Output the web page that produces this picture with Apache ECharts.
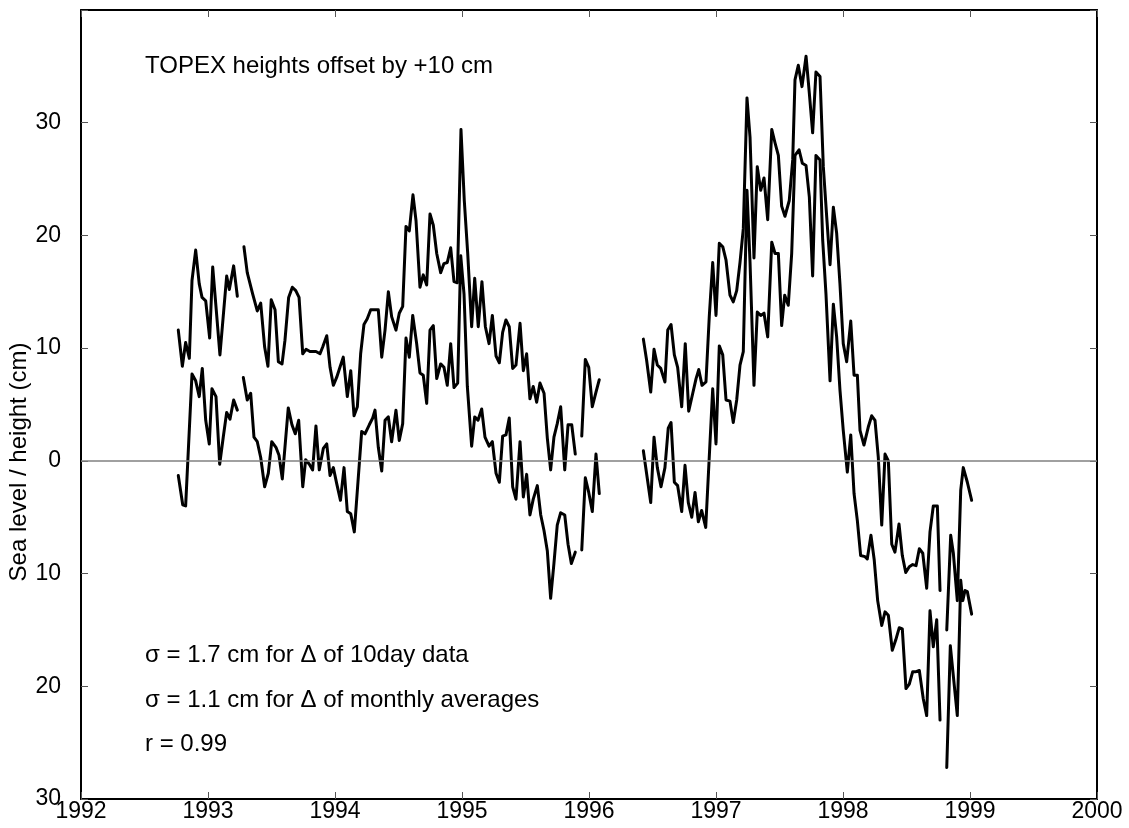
<!DOCTYPE html>
<html>
<head>
<meta charset="utf-8">
<title>Sea level / height</title>
<script src="https://cdn.jsdelivr.net/npm/echarts@6/dist/echarts.min.js"></script>
<style>
  html, body { margin: 0; padding: 0; background: #ffffff; }
  #chart { width: 1129px; height: 828px; }
</style>
</head>
<body>
<div id="chart"></div>
<script>
// Decimal-year sample times and heights (cm). null marks a gap in the record.
// TOPEX heights, drawn with the +10 cm offset already applied.
const topexYears = [
  1992.766, 1992.798, 1992.824, 1992.853, 1992.874, 1992.903, 1992.931, 1992.953, 1992.982, 1993.013,
  1993.037, 1993.065, 1993.094, 1993.147, 1993.168, 1993.202, 1993.231, null,
  1993.283, 1993.309, 1993.352, 1993.388, 1993.415, 1993.446, 1993.472, 1993.498, 1993.528, 1993.554,
  1993.583, 1993.606, 1993.635, 1993.664, 1993.691, 1993.717, 1993.746, 1993.772, 1993.803, 1993.827,
  1993.850, 1993.882, 1993.903, 1993.935, 1993.961, 1993.987, 1994.013, 1994.039, 1994.065, 1994.097,
  1994.124, 1994.150, 1994.176, 1994.202, 1994.228, 1994.254, 1994.281, 1994.311, 1994.341, 1994.368,
  1994.394, 1994.420, 1994.446, 1994.480, 1994.506, 1994.533, 1994.559, 1994.585, 1994.614, 1994.638,
  1994.669, 1994.695, 1994.722, 1994.748, 1994.774, 1994.801, 1994.832, 1994.858, 1994.884, 1994.911,
  1994.937, 1994.963, 1994.992, 1995.018, 1995.045, 1995.076, 1995.100, 1995.128, 1995.157, 1995.184,
  1995.213, 1995.239, 1995.268, 1995.294, 1995.320, 1995.346, 1995.372, 1995.399, 1995.425, 1995.457,
  1995.483, 1995.509, 1995.535, 1995.561, 1995.588, 1995.614, 1995.646, 1995.672, 1995.698, 1995.724,
  1995.750, 1995.777, 1995.809, 1995.835, 1995.864, 1995.892, null,
  1995.943, 1995.971, 1995.998, 1996.026, 1996.055, 1996.081, null,
  1996.428, 1996.454, 1996.486, 1996.512, 1996.538, 1996.565, 1996.598, 1996.620, 1996.646, 1996.672,
  1996.698, 1996.730, 1996.758, 1996.785, 1996.817, 1996.843, 1996.864, 1996.890, 1996.921, 1996.947,
  1996.974, 1997.000, 1997.026, 1997.053, 1997.079, 1997.110, 1997.136, 1997.163, 1997.189, 1997.215,
  1997.244, 1997.268, 1997.299, 1997.325, 1997.352, 1997.378, 1997.407, 1997.439, 1997.465, 1997.491,
  1997.517, 1997.543, 1997.577, 1997.604, 1997.622, 1997.648, 1997.677, 1997.709, 1997.735, 1997.761,
  1997.787, 1997.819, 1997.845, 1997.872, 1997.898, 1997.924, 1997.950, 1997.976, 1998.002, 1998.029,
  1998.061, 1998.087, 1998.113, 1998.134, 1998.165, 1998.199, 1998.226, 1998.252, 1998.278, 1998.305,
  1998.331, 1998.357, 1998.384, 1998.409, 1998.441, 1998.467, 1998.494, 1998.522, 1998.549, 1998.575,
  1998.601, 1998.628, 1998.659, 1998.685, 1998.711, 1998.743, 1998.764, null,
  1998.817, 1998.848, 1998.869, 1998.900, 1998.927, 1998.947, 1998.979, 1999.013
];
const topexCm = [
  11.6, 8.4, 10.5, 9.1, 16.0, 18.7, 15.7, 14.5, 14.2, 10.9,
  17.2, 13.4, 9.4, 16.4, 15.2, 17.3, 14.6, null,
  19.0, 16.7, 14.8, 13.3, 14.0, 10.1, 8.4, 14.3, 13.4, 8.8,
  8.6, 10.7, 14.5, 15.4, 15.1, 14.5, 9.5, 9.9, 9.7, 9.7,
  9.7, 9.5, 10.1, 11.1, 8.3, 6.7, 7.4, 8.3, 9.2, 5.7,
  8.0, 4.0, 4.8, 9.5, 12.1, 12.6, 13.4, 13.4, 13.4, 9.2,
  11.6, 15.0, 12.8, 11.6, 13.1, 13.7, 20.8, 20.4, 23.6, 21.3,
  15.4, 16.5, 15.6, 21.9, 20.9, 18.4, 16.7, 17.5, 17.6, 18.9,
  15.9, 15.8, 29.4, 23.1, 18.4, 11.9, 16.2, 11.9, 15.9, 11.9,
  10.4, 12.9, 9.3, 8.7, 11.4, 12.5, 11.9, 8.2, 8.5, 12.2,
  8.0, 9.5, 5.5, 6.6, 5.2, 6.9, 6.0, 2.0, -0.8, 2.1,
  3.3, 4.8, -0.8, 3.2, 3.2, 0.6, null,
  2.2, 9.0, 8.3, 4.8, 6.1, 7.2, null,
  10.8, 8.9, 6.1, 9.9, 8.5, 8.2, 7.0, 11.6, 12.1, 9.4,
  8.3, 4.8, 10.4, 4.4, 6.0, 7.3, 8.1, 6.7, 7.0, 12.8,
  17.6, 12.9, 19.3, 19.0, 17.8, 14.7, 14.1, 15.1, 17.6, 20.6,
  32.2, 28.7, 18.0, 26.1, 24.0, 25.1, 21.4, 29.4, 28.2, 27.1,
  22.6, 21.7, 23.1, 26.7, 33.8, 35.1, 33.2, 35.9, 32.6, 29.1,
  34.5, 34.1, 26.1, 21.6, 17.4, 22.5, 20.2, 15.7, 10.4, 8.8,
  12.4, 7.6, 7.6, 2.7, 1.4, 3.0, 4.0, 3.6, 0.3, -5.7,
  0.6, 0.0, -7.4, -8.1, -5.6, -8.4, -9.9, -9.4, -9.2, -9.3,
  -7.8, -8.2, -11.3, -6.3, -4.0, -4.0, -11.5, null,
  -15.0, -6.6, -8.2, -12.4, -2.6, -0.6, -1.9, -3.5
];

// Sea level from the gauge record.
const gaugeYears = [
  1992.766, 1992.801, 1992.824, 1992.874, 1992.903, 1992.931, 1992.955, 1992.982, 1993.010, 1993.031,
  1993.063, 1993.092, 1993.120, 1993.147, 1993.173, 1993.202, 1993.231, null,
  1993.278, 1993.309, 1993.336, 1993.362, 1993.388, 1993.415, 1993.446, 1993.475, 1993.502, 1993.535,
  1993.559, 1993.585, 1993.632, 1993.661, 1993.687, 1993.714, 1993.746, 1993.769, 1993.798, 1993.824,
  1993.850, 1993.876, 1993.908, 1993.935, 1993.961, 1993.987, 1994.013, 1994.043, 1994.071, 1994.097,
  1994.124, 1994.152, 1994.210, 1994.236, 1994.270, 1994.297, 1994.315, 1994.341, 1994.368, 1994.394,
  1994.420, 1994.446, 1994.480, 1994.506, 1994.533, 1994.559, 1994.585, 1994.612, 1994.643, 1994.669,
  1994.695, 1994.722, 1994.748, 1994.774, 1994.801, 1994.832, 1994.858, 1994.884, 1994.911, 1994.937,
  1994.966, 1994.990, 1995.016, 1995.042, 1995.076, 1995.100, 1995.126, 1995.155, 1995.181, 1995.213,
  1995.239, 1995.268, 1995.294, 1995.320, 1995.346, 1995.372, 1995.399, 1995.425, 1995.457, 1995.483,
  1995.509, 1995.535, 1995.561, 1995.593, 1995.620, 1995.646, 1995.672, 1995.698, 1995.724, 1995.750,
  1995.777, 1995.809, 1995.835, 1995.861, 1995.892, null,
  1995.943, 1995.971, 1995.998, 1996.026, 1996.055, 1996.081, null,
  1996.428, 1996.486, 1996.512, 1996.538, 1996.567, 1996.598, 1996.624, 1996.646, 1996.672, 1996.698,
  1996.730, 1996.756, 1996.782, 1996.809, 1996.835, 1996.861, 1996.887, 1996.919, 1996.974, 1997.000,
  1997.026, 1997.053, 1997.079, 1997.110, 1997.136, 1997.163, 1997.189, 1997.215, 1997.244, 1997.268,
  1997.299, 1997.325, 1997.352, 1997.378, 1997.407, 1997.439, 1997.465, 1997.491, 1997.517, 1997.541,
  1997.569, 1997.596, 1997.622, 1997.654, 1997.680, 1997.709, 1997.735, 1997.761, 1997.787, 1997.819,
  1997.840, 1997.866, 1997.898, 1997.924, 1997.950, 1997.976, 1998.002, 1998.034, 1998.061, 1998.087,
  1998.113, 1998.139, 1998.173, 1998.191, 1998.220, 1998.246, 1998.273, 1998.305, 1998.331, 1998.357,
  1998.388, 1998.415, 1998.443, 1998.467, 1998.496, 1998.522, 1998.549, 1998.575, 1998.601, 1998.632,
  1998.659, 1998.685, 1998.711, 1998.738, 1998.764, null,
  1998.817, 1998.845, 1998.900, 1998.927, 1998.943, 1998.961, 1998.979, 1999.013
];
const gaugeCm = [
  -1.3, -3.9, -4.0, 7.7, 7.1, 5.7, 8.2, 3.6, 1.5, 6.4,
  5.7, -0.3, 2.1, 4.3, 3.7, 5.4, 4.5, null,
  7.4, 5.4, 6.0, 2.1, 1.7, 0.3, -2.3, -1.1, 1.7, 1.2,
  0.5, -1.6, 4.7, 3.2, 2.4, 3.6, -2.3, 0.1, -0.3, -0.8,
  3.1, -0.8, 1.1, 1.5, -1.3, -0.6, -2.0, -3.5, -0.6, -4.5,
  -4.7, -6.3, 2.6, 2.4, 3.2, 3.8, 4.5, 1.2, -0.9, 3.6,
  3.9, 1.7, 4.5, 1.8, 3.3, 10.9, 9.2, 12.9, 10.4, 7.8,
  7.6, 5.1, 11.6, 12.0, 7.3, 8.6, 8.3, 6.7, 10.4, 6.5,
  6.9, 18.2, 14.8, 6.6, 1.3, 3.9, 3.6, 4.6, 2.1, 1.3,
  1.7, -1.1, -1.9, 2.2, 2.3, 3.8, -2.3, -3.4, 1.7, -3.2,
  -1.2, -4.8, -3.4, -2.2, -4.8, -6.2, -8.0, -12.2, -9.1, -5.7,
  -4.6, -4.8, -7.4, -9.1, -8.1, null,
  -7.9, -1.5, -2.8, -4.5, 0.6, -2.9, null,
  0.9, -3.7, 2.1, -0.6, -2.3, -0.6, 2.9, 3.4, -1.9, -2.2,
  -4.5, -0.4, -3.7, -5.0, -2.8, -5.4, -4.4, -5.9, 6.4, 1.5,
  10.2, 9.4, 5.4, 5.3, 3.4, 5.4, 8.5, 9.7, 24.0, 17.6,
  6.7, 13.2, 12.9, 13.1, 11.0, 19.4, 18.4, 18.4, 12.0, 14.7,
  13.8, 18.4, 27.1, 27.6, 26.4, 26.2, 23.4, 16.4, 27.1, 26.7,
  19.6, 14.8, 7.1, 13.9, 11.0, 6.3, 2.7, -1.0, 2.3, -2.9,
  -5.3, -8.4, -8.5, -8.7, -6.6, -8.8, -12.4, -14.6, -13.4, -13.7,
  -16.8, -15.9, -14.8, -14.9, -20.2, -19.8, -18.7, -18.7, -18.6, -21.1,
  -22.6, -13.3, -16.5, -14.1, -23.0, null,
  -27.2, -16.4, -22.6, -10.6, -12.4, -11.5, -11.6, -13.6
];

// Axis ranges and tick labels
const yearTicks = [1992, 1993, 1994, 1995, 1996, 1997, 1998, 1999, 2000];
const levelTicks = [-30, -20, -10, 0, 10, 20, 30, 40];
const levelTickLabels = ['30', '20', '10', '0', '10', '20', '30', ''];
const zeroLevel = 0;

const yTitle = 'Sea level / height (cm)';
const notes = [
  'TOPEX heights offset by +10 cm',
  '\u03c3 = 1.7 cm for \u0394 of 10day data',
  '\u03c3 = 1.1 cm for \u0394 of monthly averages',
  'r = 0.99'
];

function pairs(ts, vs) {
  return ts.map((t, i) => (t === null || vs[i] === null) ? ['-', '-'] : [t, vs[i]]);
}

const FONT = '"Liberation Sans", Arial, Helvetica, sans-serif';
const TICK_FONT_SIZE = 23;
const TEXT_FONT_SIZE = 24;
const chart = echarts.init(document.getElementById('chart'), null, { renderer: 'canvas' });

const xCommon = {
  type: 'value',
  min: yearTicks[0],
  max: yearTicks[yearTicks.length - 1],
  interval: 1,
  splitLine: { show: false },
  axisLine: { show: true, onZero: false, lineStyle: { color: '#000', width: 2 } },
  axisTick: { show: true, inside: true, length: 7, lineStyle: { color: '#555', width: 1 } }
};
const yCommon = {
  type: 'value',
  min: levelTicks[0],
  max: levelTicks[levelTicks.length - 1],
  interval: 10,
  splitLine: { show: false },
  axisLine: { show: true, onZero: false, lineStyle: { color: '#000', width: 2 } },
  axisTick: { show: true, inside: true, length: 7, lineStyle: { color: '#555', width: 1 } }
};

function note(text, top) {
  return {
    type: 'text', left: 145, top: top,
    style: { text: text, fill: '#000', font: TEXT_FONT_SIZE + 'px ' + FONT }
  };
}

chart.setOption({
  animation: false,
  backgroundColor: '#ffffff',
  grid: { left: 81, right: 32, top: 10, bottom: 29, containLabel: false, outerBoundsMode: 'none' },
  xAxis: [
    Object.assign({}, xCommon, {
      position: 'bottom',
      axisLabel: {
        show: true, color: '#000', fontFamily: FONT, fontSize: TICK_FONT_SIZE, margin: 1,
        formatter: v => String(v)
      }
    }),
    Object.assign({}, xCommon, { position: 'top', axisLabel: { show: false } })
  ],
  yAxis: [
    Object.assign({}, yCommon, {
      position: 'left',
      axisLabel: {
        show: true, color: '#000', fontFamily: FONT, fontSize: TICK_FONT_SIZE, margin: 20,
        formatter: v => levelTickLabels[levelTicks.indexOf(v)] ?? ''
      }
    }),
    Object.assign({}, yCommon, { position: 'right', axisLabel: { show: false } })
  ],
  graphic: [
    {
      type: 'text', x: 19, y: 462, rotation: Math.PI / 2,
      style: {
        text: yTitle, fill: '#000', font: TEXT_FONT_SIZE + 'px ' + FONT,
        align: 'center', verticalAlign: 'middle'
      }
    },
    note(notes[0], 54),
    note(notes[1], 643),
    note(notes[2], 688),
    note(notes[3], 732)
  ],
  series: [
    {
      name: 'zero',
      type: 'line',
      data: [],
      z: 1,
      silent: true,
      markLine: {
        silent: true,
        symbol: ['none', 'none'],
        label: { show: false },
        lineStyle: { color: '#808080', width: 1.5, type: 'solid' },
        data: [{ yAxis: zeroLevel }]
      }
    },
    {
      name: 'TOPEX',
      type: 'line',
      data: pairs(topexYears, topexCm),
      showSymbol: false,
      connectNulls: false,
      z: 3,
      lineStyle: { color: '#000', width: 3, join: 'round', cap: 'round' }
    },
    {
      name: 'Gauge',
      type: 'line',
      data: pairs(gaugeYears, gaugeCm),
      showSymbol: false,
      connectNulls: false,
      z: 3,
      lineStyle: { color: '#000', width: 3, join: 'round', cap: 'round' }
    }
  ]
});
</script>
</body>
</html>
